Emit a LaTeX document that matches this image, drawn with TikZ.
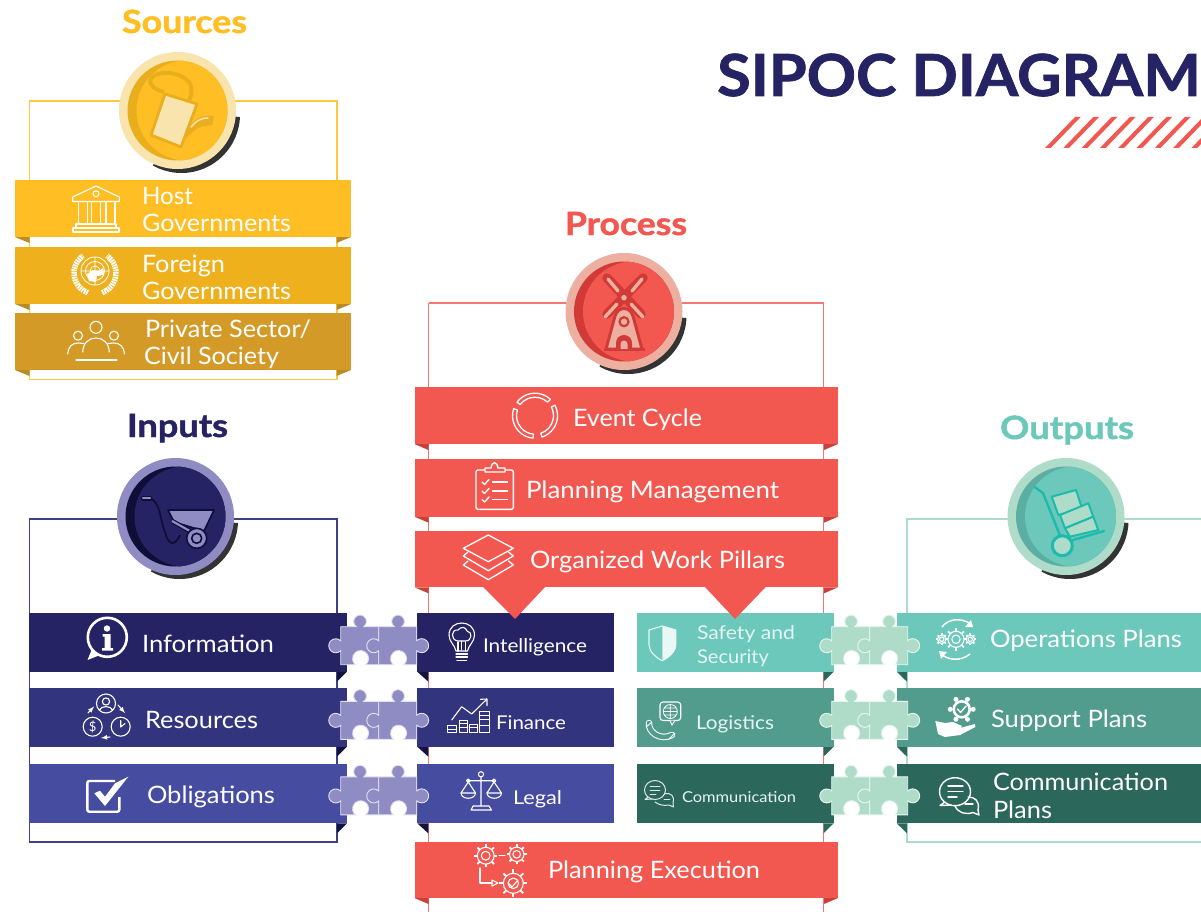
\documentclass[tikz,border=0pt]{standalone}
\usepackage{fontspec}
\setmainfont{Lato}
\newfontfamily\hfont[BoldFeatures={FakeBold=1.3}]{Lato}
\usetikzlibrary{calc}
\definecolor{yA}{HTML}{FFBE24}\definecolor{yB}{HTML}{EEB01C}\definecolor{yC}{HTML}{D49A28}
\definecolor{yF}{HTML}{B98A28}\definecolor{yL}{HTML}{F9E4AE}\definecolor{yD}{HTML}{E9AE1E}\definecolor{yLine}{HTML}{FFC93F}
\definecolor{rA}{HTML}{F35850}\definecolor{rF}{HTML}{C9403A}\definecolor{rL}{HTML}{EDB0A0}\definecolor{rD}{HTML}{D13A37}\definecolor{rLine}{HTML}{F4786F}
\definecolor{nA}{HTML}{252364}\definecolor{nB}{HTML}{33347E}\definecolor{nC}{HTML}{464C9F}\definecolor{nF}{HTML}{14133F}\definecolor{nL}{HTML}{8E8CC3}\definecolor{nD}{HTML}{0F0E38}\definecolor{nLine}{HTML}{3F3F85}
\definecolor{tA}{HTML}{6CC8BA}\definecolor{tB}{HTML}{529C8D}\definecolor{tC}{HTML}{2C675C}\definecolor{tL}{HTML}{AEDCC8}\definecolor{tD}{HTML}{5BAEA2}\definecolor{tI}{HTML}{1DBAAE}
\definecolor{shadow}{HTML}{333333}
\newcommand{\lbl}[2]{\resizebox{#1pt}{\height}{#2}}
\newcommand{\ringseg}[6]{($(#1,#2)+(#3:#5)$) arc[start angle=#3,end angle=#4,radius=#5] -- ($(#1,#2)+(#4:#6)$) arc[start angle=#4,end angle=#3,radius=#6] -- cycle}
\newcommand{\geardraw}[3]{%
 \draw[ico] (#1,#2) circle ({#3*0.8});
 \draw[ico] (#1,#2) circle ({#3*0.42});
 \foreach \ga in {0,45,...,315}{\draw[white,line width=1.8] ($(#1,#2)+(\ga:{#3*0.8})$) -- ($(#1,#2)+(\ga:{#3*1.12})$);}}
\newcommand{\badge}[5]{% cx cy light dark main
 \begin{scope}
  \clip (#1,#2) -- ($(#1,#2)+(6:100)$) -- ($(#1,#2)+(60:120)$) -- ($(#1,#2)+(114:100)$) -- cycle;
  \fill[shadow] (#1+4,#2+4) circle (58.5);
 \end{scope}
 \fill[#3] (#1,#2) circle (58.5);
 \fill[#4] (#1,#2) circle (50);
 \begin{scope}
  \clip (#1,#2) circle (50);
  \fill[#5] (#1+9,#2) circle (50);
 \end{scope}}
\tikzset{
 ico/.style={draw=white,line width=1.1,line join=round,line cap=round,fill=none},
 lab/.style={anchor=base west,inner sep=0pt,outer sep=0pt,text=white,font=\fontsize{24}{24}\selectfont},
 labs/.style={lab,font=\fontsize{19}{19}\selectfont},
 pale/.style={lab,text=white!82!tA,font=\fontsize{19}{19}\selectfont},
 head/.style={anchor=base west,inner sep=0pt,outer sep=0pt,font=\fontsize{32}{32}\selectfont\hfont\bfseries},
 piece/.pic={
  \draw[fill=pc,draw=white!75!pc,line width=.9]
   (0,0) -- (15.7,0) arc[start angle=125,end angle=415,radius=6.4] -- (38,0)
   -- (38,38) -- (25,38) arc[start angle=50,end angle=-230,radius=8] -- (0,38)
   -- (0,24) arc[start angle=45,end angle=315,radius=7] -- cycle;
 },
 pieceR/.pic={
  \draw[fill=pc,draw=white!75!pc,line width=.9]
   (0,0) -- (15.7,0) arc[start angle=125,end angle=415,radius=6.4] -- (38,0)
   -- (38,14) arc[start angle=-135,end angle=135,radius=7] -- (38,38) -- (25,38) arc[start angle=50,end angle=-230,radius=8] -- (0,38)
   -- (0,24) arc[start angle=45,end angle=315,radius=7] -- cycle;
 },
}
\begin{document}
\begin{tikzpicture}[x=1pt,y=1pt,yscale=-1]
\useasboundingbox (0,0) rectangle (1201,912);
\clip (0,0) rectangle (1201,912);
\fill[white] (0,0) rectangle (1201,912);

% title
\node[anchor=base west,inner sep=0pt,text=nA,font=\fontsize{58}{58}\selectfont\hfont\bfseries] (title) at (717,96) {\lbl{483.5}{SIPOC DIAGRAM}};
\foreach \sx in {0,1,...,8}{\fill[rA] (1045+18.3*\sx,148) -- (1075+18.3*\sx,117) -- (1080.7+18.3*\sx,117) -- (1050.7+18.3*\sx,148) -- cycle;}

% frames
\draw[yLine,line width=1.3] (29.5,101) rectangle (337,379.5);
\draw[rLine,line width=1.3] (428.5,303) -- (823.8,303) -- (823.8,930) (428.5,303) -- (428.5,930);
\draw[nLine,line width=1.3] (29.5,519) rectangle (337,842);
\draw[tL,line width=1.3] (1230,519) -- (907,519) -- (907,842) -- (1230,842);

% headings
\node[head,text=yA] (hS) at (122,33) {\lbl{125}{Sources}};
\node[head,text=rA] (hP) at (565,235) {\lbl{122}{Process}};
\node[head,text=nA] (hI) at (127,437) {\lbl{101}{Inputs}};
\node[head,text=tA] (hO) at (1000,439) {\lbl{134}{Outputs}};

% badges
\badge{177.5}{110.5}{yL}{yD}{yA}
\badge{624}{311.5}{rL}{rD}{rA}
\badge{175.5}{516.5}{nL}{nD}{nA}
\badge{1066}{516.5}{tL}{tD}{tA}

% watering can
\draw[yD,line width=4,line join=round] (164,92) .. controls (148,88) and (146,78) .. (158,74) .. controls (170,70) and (188,76) .. (191,86) .. controls (192,92) and (191,98) .. (189,100);
\draw[yD,line width=2.8,line join=round,fill=yL] (165,94) -- (197,104) -- (181,147) -- (151,135) -- cycle;
\fill[yD] (186,130) .. controls (192,122) and (200,114) .. (214,116) -- (212,125) -- (206,126) .. controls (198,126) and (192,132) .. (184,140) -- cycle;
\draw[yL,line width=1.5,line cap=round] (191,127) .. controls (195,122) and (200,118) .. (208,118);

% windmill
\draw[rD,line width=9.5,line cap=round] (607,278) -- (641,314) (643,278) -- (607,314);
\draw[rL,line width=3.4,line cap=round] (608,279) -- (618,291) (642,279) -- (632,291) (605,317) -- (617,304) (643,317) -- (631,304);
\draw[rD,line width=3,fill=rL,line join=round] (606,349) -- (615,316) .. controls (618,306) and (630,306) .. (633,316) -- (642,349) -- cycle;
\fill[rD] (603.5,348) rectangle (645,351);
\draw[rD,line width=2.2,fill=rL] (624,321.7) circle (4.5);
\fill[rD] (616,349) -- (616,343) arc[start angle=180,end angle=360,radius=8] -- (632,349) -- cycle;
\fill[rL] (620.5,349) -- (620.5,344) arc[start angle=180,end angle=360,radius=3.5] -- (627.5,349) -- cycle;
\draw[rD,line width=2,fill=rL] (624,297.7) circle (4);

% wheelbarrow
\draw[nD,line width=1.8] (150,499) .. controls (160,500) and (160,520) .. (165,532) .. controls (168,544) and (174,548) .. (180,535);
\draw[nD,line width=5,line cap=round] (143,498) -- (150,498);
\draw[nL,line width=2.4,line cap=round] (143,498) -- (150,498);
\draw[nD,line width=1.6,fill=nL,line join=round] (168,510) -- (214,510) -- (204,531) -- (174,522) -- cycle;
\draw[nD,line width=4.5] (172,521) -- (197,535);
\draw[nL,line width=2.2] (172,521) -- (197,535);
\draw[nD,line width=1.6,fill=nL] (196.7,538.3) circle (10);
\draw[nD,line width=1.6,fill=nL] (196.7,538.3) circle (5);

% hand truck
\draw[tI,line width=2.4,line cap=round,line join=round] (1035,487.3) -- (1043,493) -- (1063,543) (1063,543) -- (1104,531);
\draw[tI,line width=2,fill=tL,line join=round] (1051.7,496.7) -- (1076,490) -- (1082,508.3) -- (1058.3,515) -- cycle;
\draw[tI,line width=2,fill=tL,line join=round] (1060,515) -- (1088.3,503.3) -- (1093.3,516.7) -- (1065,528.3) -- cycle;
\draw[tI,line width=2,fill=tL,line join=round] (1065,528.3) -- (1093.3,516.7) -- (1098.3,530) -- (1070,536.7) -- cycle;
\draw[tI,line width=3,fill=tL] (1062.3,545.7) circle (10);

% ribbons: sources
\foreach \yt/\yb/\c in {180/237/yA,247/304/yB,313/370/yC}{
 \fill[yF] (15,\yb) -- (29.5,\yb) -- (29.5,\yb+6) -- cycle;
 \fill[yF] (351,\yb) -- (336.5,\yb) -- (336.5,\yb+6) -- cycle;
 \fill[\c] (15,\yt) rectangle (351,\yb);
}
% ribbons: process
\foreach \yt/\yb in {386.7/444,459.3/516.7,530.7/587.3,841.7/898}{
 \fill[rF] (414.5,\yb) -- (428.5,\yb) -- (428.5,\yb+6) -- cycle;
 \fill[rF] (838,\yb) -- (824,\yb) -- (824,\yb+6) -- cycle;
 \fill[rA] (414.5,\yt) rectangle (838,\yb);
}
% rows
\foreach \yt/\yb/\cn/\ct in {612.7/671.7/nA/tA,687.7/746.7/nB/tB,764/823.3/nC/tC}{
 \fill[nF] (347,\yb) -- (337,\yb) -- (337,\yb+10) -- cycle;
 \fill[nF] (417.3,\yb) -- (428.3,\yb) -- (428.3,\yb+10) -- cycle;
 \fill[\cn] (29,\yt) rectangle (347,\yb);
 \fill[\cn] (417.3,\yt) rectangle (614.3,\yb);
 \fill[tC] (833.7,\yb) -- (823.5,\yb) -- (823.5,\yb+10) -- cycle;
 \fill[tC] (896.7,\yb) -- (907,\yb) -- (907,\yb+10) -- cycle;
 \fill[\ct] (636.7,\yt) rectangle (833.7,\yb);
 \fill[\ct] (896.7,\yt) rectangle (1201,\yb);
}
% pointers
\fill[rA] (483,587) -- (515,619) -- (545,587) -- cycle;
\fill[rA] (705,587) -- (735,619) -- (765.7,587) -- cycle;

% puzzles
\foreach \py in {626.7,701.3,776.9}{
 \colorlet{pc}{nL}
 \path (340.7,\py) pic[transform shape] {piece};
 \path (378.7,\py) pic[transform shape] {pieceR};
 \colorlet{pc}{tL}
 \path (831.7,\py) pic[transform shape] {piece};
 \path (869.7,\py) pic[transform shape] {pieceR};
}

% labels
\node[lab] (t1) at (142,204.5) {\lbl{51}{Host}};
\node[lab] (t2) at (142,231.5) {\lbl{149}{Governments}};
\node[lab] (t3) at (142,272) {\lbl{83}{Foreign}};
\node[lab] (t4) at (142,299) {\lbl{149}{Governments}};
\node[lab] (t5) at (145,337) {\lbl{166}{Private Sector/}};
\node[lab] (t6) at (144,364) {\lbl{135}{Civil Society}};
\node[lab] (t7) at (573,426) {\lbl{129}{Event Cycle}};
\node[lab] (t8) at (526,498) {\lbl{253}{Planning Management}};
\node[lab] (t9) at (530,568) {\lbl{255}{Organized Work Pillars}};
\node[lab] (t10) at (548,878) {\lbl{212}{Planning Execution}};
\node[lab] (t11) at (142,652) {\lbl{132}{Information}};
\node[lab] (t12) at (145,728) {\lbl{113}{Resources}};
\node[lab] (t13) at (147,803) {\lbl{128}{Obligations}};
\node[labs] (t14) at (483,652) {\lbl{104}{Intelligence}};
\node[labs] (t15) at (496,729) {\lbl{70}{Finance}};
\node[labs] (t16) at (513,804) {\lbl{49}{Legal}};
\node[pale] (t17) at (697,639) {\lbl{98}{Safety and}};
\node[pale] (t18) at (697,663) {\lbl{72}{Security}};
\node[pale] (t19) at (696,729) {\lbl{78}{Logistics}};
\node[pale,font=\fontsize{15}{15}\selectfont] (t20) at (682,802) {\lbl{114}{Communication}};
\node[lab] (t21) at (990,647) {\lbl{192}{Operations Plans}};
\node[lab] (t22) at (991,727) {\lbl{156}{Support Plans}};
\node[lab] (t23) at (993,790) {\lbl{175}{Communication}};
\node[lab] (t24) at (993,818) {\lbl{59}{Plans}};

% bank
\draw[ico] (72.7,197) -- (96,186) -- (119.3,197) -- (119.3,201.5) -- (72.7,201.5) -- cycle;
\draw[ico] (96,193.7) circle (3);
\foreach \cx in {78.3,91.7,106}{\draw[ico] (\cx,201.5) -- (\cx,224) (\cx+9,201.5) -- (\cx+9,224);}
\draw[ico] (76,224) rectangle (116,228) (73,228) rectangle (119,232);

% UN
\draw[ico,line width=.8] (95,271) circle (14) (95,271) circle (9.5) (95,271) circle (5) (81,271) -- (109,271) (95,257) -- (95,285);
\fill[white] (87,274) -- (93,270) -- (99,271) -- (103,268) -- (104,275) -- (97,276) -- (96,282) -- (89,281) -- cycle;
\draw[white,line width=5.5,dash pattern=on 1.7pt off .8pt] (95,273) ++(110:21) arc[start angle=110,end angle=235,radius=21];
\draw[white,line width=5.5,dash pattern=on 1.7pt off .8pt] (95,273) ++(70:21) arc[start angle=70,end angle=-55,radius=21];

% people
\draw[ico] (96,327.3) circle (6) (78,335.7) circle (4.5) (114,335.7) circle (4.5);
\draw[ico] (82.7,352) .. controls (83,343) and (89,338) .. (96,338) .. controls (103,338) and (109,343) .. (109.3,352);
\draw[ico] (67.7,354) .. controls (68,347) and (72,343) .. (78,343) -- (84,343.5);
\draw[ico] (124.5,354) .. controls (124,347) and (120,343) .. (114,343) -- (108,343.5);
\draw[ico] (76,360) -- (117,360);

% event cycle
\draw[ico,line width=1.3] \ringseg{535}{415.7}{-143}{-47}{22.5}{18.5};
\draw[ico,line width=1.3] \ringseg{535}{415.7}{-28}{72}{22.5}{18.5};
\draw[ico,line width=1.3] \ringseg{535}{415.7}{95}{198}{22.5}{18.5};

% clipboard
\draw[ico,rounded corners=2pt,line width=1.4] (476,470) rectangle (513.3,509.3);
\draw[ico,fill=rA,line width=1.4] (485,472) -- (485,468) -- (491,468) .. controls (492,461) and (497,461) .. (498,468) -- (505,468) -- (505,472) -- cycle;
\foreach \cy in {482,491,499.5}{
 \draw[ico,line width=1.4] (482,\cy) -- (484.5,\cy+2.5) -- (489,\cy-2.5);
 \draw[ico,line width=1.3] (492.5,\cy) -- (507.5,\cy);}

% layers
\draw[ico,line width=1.3] (463.3,548.3) -- (488.3,535) -- (513.3,548.3) -- (488.3,561.7) -- cycle;
\draw[ico,line width=1.3] (468,552) -- (463.3,556) -- (488.3,570.7) -- (513.3,556) -- (508.6,552);
\draw[ico,line width=1.3] (468,561) -- (463.3,565) -- (488.3,579.7) -- (513.3,565) -- (508.6,561);

% exec gears
\geardraw{485.7}{855.7}{10.5}
\geardraw{516.7}{854.3}{9}
\geardraw{513.3}{883.3}{12.5}
\draw[ico] (499,855.5) -- (505,855.5);
\draw[ico] (480,868) -- (480,883) -- (492,883);
\draw[ico] (492,880) -- (498,883) -- (492,886) -- cycle;
\draw[ico] (508.5,883.5) -- (512,887) -- (518,880);

% info
\draw[white,line width=2.6] (107.3,637.3) circle (19.5);
\fill[white] (92,649) -- (87.5,660) -- (100,655) -- cycle;
\fill[white] (107,628.5) circle (3.2);
\fill[white] (102.5,634) -- (110.5,634) -- (110.5,648) -- (113,648) -- (113,650.5) -- (102,650.5) -- (102,648) -- (104.5,648) -- (104.5,636.5) -- (102.5,636.5) -- cycle;

% resources
\draw[ico] (106,703.5) circle (9.5) (106,701.5) circle (3.6) (99.5,710) .. controls (101,705.5) and (111,705.5) .. (112.5,710);
\draw[ico] (92.7,726.7) circle (9.5) (120.7,726.7) circle (9.5);
\node[inner sep=0pt,text=white,font=\fontsize{13}{13}\selectfont] (dollar) at (92.7,726.7) {\$};
\draw[ico] (120.7,720.5) -- (120.7,727) -- (125,723.5);
\draw[ico,-latex] (88,713) -- (94,706.5);
\draw[ico,-latex] (118,705) -- (125,713);
\draw[ico,-latex] (110,737) -- (101,738);

% check
\draw[white,line width=2.4,rounded corners=2pt] (115,781) -- (87.3,781) -- (87.3,811.7) -- (119.3,811.7) -- (119.3,797);
\fill[white] (94.3,793.3) -- (105,806) -- (128.3,776.7) -- (115,783.3) -- (105,796.7) -- (100,790.7) -- cycle;

% bulb
\draw[ico] (456,651) .. controls (455,645) and (449,642) .. (449,635) .. controls (449,619) and (474.5,619) .. (474.5,635) .. controls (474.5,642) and (468.5,645) .. (467.5,651) -- cycle;
\draw[ico] (456,654) -- (467.5,654) (456,657) -- (467.5,657) (457,660.5) -- (466.5,660.5);
\draw[ico] (461.7,650) -- (461.7,641) (458,651) -- (458,642) (465.5,651) -- (465.5,642);
\draw[ico] (458,641) .. controls (450,640) and (451,629) .. (458,630) .. controls (461,626) and (466,627) .. (467,631) .. controls (473,632) and (472,641) .. (465.5,641) -- cycle;

% finance
\draw[ico] (451.7,720) -- (461.7,706.7) -- (471.7,714) -- (486.7,699.3);
\draw[ico] (480.5,699.3) -- (487,699) -- (487,705.5);
\foreach \sx/\st/\sw in {447.7/725.7/8.5,459.3/720/8,469.3/724/8.4,479.3/711.7/10}{
 \draw[ico,line width=.9] (\sx,\st) rectangle (\sx+\sw,732.3);
 \draw[ico,line width=.9] (\sx,\st+3.3) -- (\sx+\sw,\st+3.3);
}
\draw[ico,line width=.9] (459.3,727) -- (467.3,727) (479.3,719) -- (489.3,719) (479.3,725) -- (489.3,725);

% legal
\draw[ico] (481,774.3) circle (2.6) (481,777) -- (481,806) (468,780.7) -- (494,780.7);
\draw[ico] (471,810) -- (473,806) -- (489,806) -- (491.5,810) -- cycle;
\draw[ico] (468.3,780.7) circle (1.8) (494,780.7) circle (1.8);
\draw[ico] (461,793) -- (468.3,782) -- (475.5,793) (487,793) -- (494,782) -- (501.5,793);
\draw[ico] (461,793) -- (475.5,793) .. controls (475,800) and (461.5,800) .. (461,793);
\draw[ico] (487,793) -- (501.5,793) .. controls (501,800) and (487.5,800) .. (487,793);

% shield
\draw[ico,draw=white!85!tA] (649,630) -- (662.3,626) -- (675.7,630) -- (675.7,645) .. controls (675.7,652) and (668,658) .. (662.3,660.7) .. controls (656.5,658) and (649,652) .. (649,645) -- cycle;
\fill[white!85!tA] (662.3,626) -- (675.7,630) -- (675.7,645) .. controls (675.7,652) and (668,658) .. (662.3,660.7) -- cycle;

% logistics
\draw[ico,rounded corners=3pt] (660,702) rectangle (680.7,720.5);
\draw[white,fill=tB,line width=.9] (670,720.5) -- (672,725) -- (675,720.5);
\draw[ico,line width=.8] (670.3,711.5) circle (7) (670.3,704.5) -- (670.3,718.5) (663.3,711.5) -- (677.3,711.5) (664.5,708) -- (676,708) (664.5,715) -- (676,715);
\draw[white,line width=6.5,line cap=round] (649,723) .. controls (648,732) and (660,741) .. (672,735);
\draw[tB,line width=4.5,line cap=round] (649,723) .. controls (648,732) and (660,741) .. (672,735);
\draw[white,line width=.9] (652,722) -- (646,727) (675,733) -- (669,739);

% communication small
\draw[ico,draw=white!85!tC,line width=1] (655,790) ellipse (10.5 and 9.5);
\draw[ico,draw=white!85!tC,line width=1] (648,797) -- (645,799.5) -- (652,799);
\draw[ico,draw=white!85!tC,line width=.9] (650,786) -- (660,786) (650,790) -- (660,790) (650,794) -- (656,794);
\draw[ico,draw=white!85!tC,line width=1] (664,794) .. controls (671,792) and (675,796) .. (673,803) -- (673.5,807) -- (669,805) .. controls (664,806) and (659,805) .. (655,802);
\draw[ico,draw=white!85!tC,line width=.9] (664,799) -- (670,799);

% ops
\geardraw{956}{639.3}{10}
\geardraw{941.7}{639.3}{5.2}
\geardraw{970.3}{639.3}{5.2}
\draw[white,line width=1.5] (942,627) .. controls (948,619) and (960,617) .. (971,624);
\draw[white,line width=1.5] (941,654) .. controls (948,660) and (960,662) .. (970,654);
\fill[white] (973,627) -- (965,627) -- (971,620) -- cycle;
\fill[white] (939,651) -- (947,652) -- (941,659) -- cycle;

% support
\foreach \ga in {0,60,...,300}{\fill[white] ($(961.7,709.3)+(\ga:11.5)$) circle (2.5);}
\draw[white,line width=2.6] (961.7,709.3) circle (8);
\draw[ico,line width=1.4] (957.5,709) -- (960.5,712.5) -- (966,706);
\fill[white] (935.3,721) -- (945,723) -- (953,722) -- (962,726) -- (960,728) -- (975,724) -- (975.3,727) -- (960,735) -- (945,737) -- (938,734) -- cycle;

% communication plans
\draw[ico,line width=1.4] (955,791.7) ellipse (15.5 and 14);
\draw[ico,line width=1.4] (945,802) -- (940,805.5) -- (951,805);
\draw[ico,line width=1.4] (948,786) -- (963,786) (948,791.5) -- (963,791.5) (948,797) -- (957,797);
\draw[ico,line width=1.4] (968,797) .. controls (975,797) and (980,801) .. (978,810) -- (979,815) -- (973,812.5) .. controls (966,815) and (958,813) .. (955,806);
\draw[ico,line width=1.4] (965,804) -- (973,804);
\end{tikzpicture}
\end{document}
